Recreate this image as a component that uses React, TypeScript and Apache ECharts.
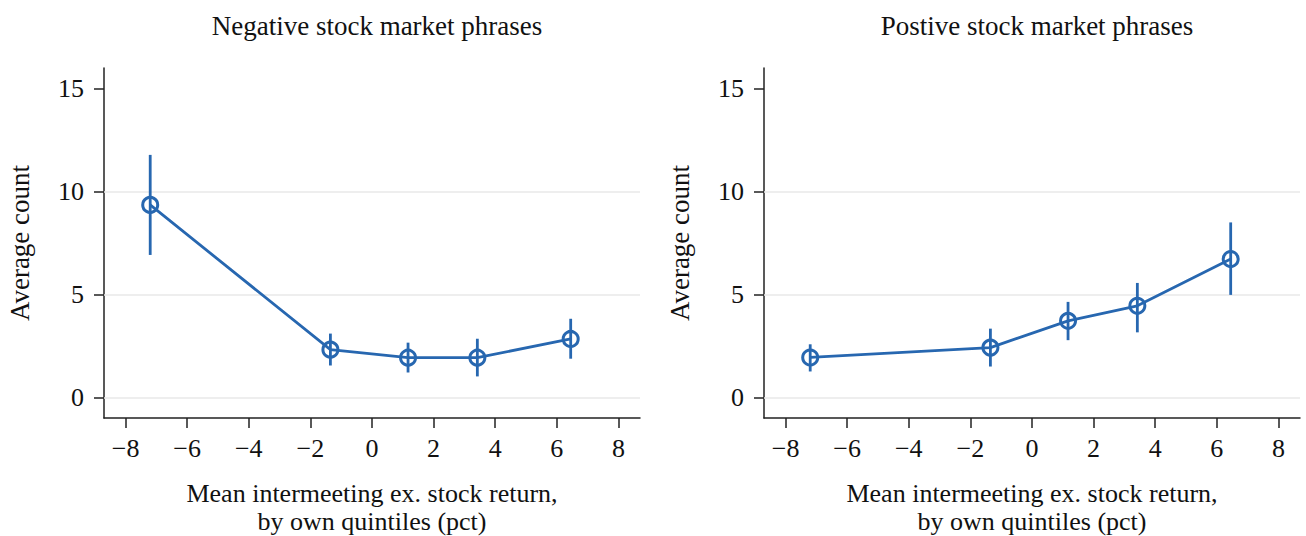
import React, { useEffect, useRef } from "react";
import * as echarts from "echarts";

const panelTitles = ["Negative stock market phrases", "Postive stock market phrases"];
const xValues = [-7.2, -1.35, 1.17, 3.42, 6.45];
const negMean = [9.35, 2.32, 1.93, 1.93, 2.84];
const negLow = [6.92, 1.55, 1.21, 1.02, 1.88];
const negHigh = [11.78, 3.1, 2.66, 2.85, 3.82];
const posMean = [1.94, 2.42, 3.72, 4.45, 6.72];
const posLow = [1.26, 1.5, 2.78, 3.16, 4.98];
const posHigh = [2.58, 3.34, 4.64, 5.56, 8.5];
const xTicks = [-8, -6, -4, -2, 0, 2, 4, 6, 8];
const yTicks = [0, 5, 10, 15];
const gridValues = [0, 5, 10];
const yTitle = "Average count";
const xTitleLines = ["Mean intermeeting ex. stock return,", "by own quintiles (pct)"];

const BLUE = "#2767b0";
const FONT = "'Liberation Serif', 'Times New Roman', 'DejaVu Serif', serif";
const FS = 26;
const TFS = 27;

export default function App() {
  const ref = useRef<HTMLDivElement>(null);
  useEffect(() => {
    if (!ref.current) return;
    const chart = echarts.init(ref.current, null, { renderer: "svg" });
    const lefts = [104, 764];
    const plotW = 536;
    const grids = lefts.map((l) => ({ left: l, top: 68, width: plotW, height: 350 }));
    const fmt = (v: number) => (v < 0 ? "\u2212" + Math.abs(v) : String(v));
    const xAxes = [0, 1].map((i) => ({
      type: "value",
      gridIndex: i,
      min: -8.7,
      max: 8.7,
      axisLine: { show: true, onZero: false, lineStyle: { color: "#222", width: 1.5 } },
      axisTick: { show: true, customValues: xTicks, length: 10, lineStyle: { color: "#222", width: 1.5 } },
      axisLabel: { customValues: xTicks, formatter: fmt, fontFamily: FONT, fontSize: FS, color: "#111", margin: 17 },
      splitLine: { show: false },
    }));
    const yAxes = [0, 1].map((i) => ({
      type: "value",
      gridIndex: i,
      min: -1,
      max: 16,
      axisLine: { show: true, onZero: false, lineStyle: { color: "#222", width: 1.5 } },
      axisTick: { show: true, customValues: yTicks, length: 10, lineStyle: { color: "#222", width: 1.5 } },
      axisLabel: { customValues: yTicks, fontFamily: FONT, fontSize: FS, color: "#111", margin: 20 },
      splitLine: { show: false },
    }));
    const datasets = [
      { mean: negMean, lo: negLow, hi: negHigh },
      { mean: posMean, lo: posLow, hi: posHigh },
    ];
    const series: any[] = [];
    datasets.forEach((d, i) => {
      series.push({
        type: "line",
        xAxisIndex: i,
        yAxisIndex: i,
        data: xValues.map((x, k) => [x, d.mean[k]]),
        symbol: "circle",
        symbolSize: 15,
        lineStyle: { color: BLUE, width: 2.8 },
        itemStyle: { color: "rgba(0,0,0,0)", borderColor: BLUE, borderWidth: 3 },
        z: 3,
        markLine: {
          silent: true,
          symbol: "none",
          label: { show: false },
          lineStyle: { color: "#e8e8e8", width: 1.5, type: "solid" },
          data: gridValues.map((v) => ({ yAxis: v })),
          z: 1,
        },
      });
      series.push({
        type: "custom",
        xAxisIndex: i,
        yAxisIndex: i,
        z: 4,
        data: xValues.map((x, k) => [x, d.lo[k], d.hi[k]]),
        encode: { x: 0, y: [1, 2] },
        renderItem: (params: any, api: any) => {
          const x = api.value(0);
          const p1 = api.coord([x, api.value(1)]);
          const p2 = api.coord([x, api.value(2)]);
          return {
            type: "line",
            shape: { x1: p1[0], y1: p1[1], x2: p2[0], y2: p2[1] },
            style: { stroke: BLUE, lineWidth: 2.8 },
          };
        },
      });
    });
    const graphic: any[] = [];
    lefts.forEach((l) => {
      const cx = l + plotW / 2;
      graphic.push({
        type: "text",
        x: l - 84,
        y: 243,
        rotation: Math.PI / 2,
        style: { text: yTitle, fontFamily: FONT, fontSize: TFS, fill: "#111", align: "center", verticalAlign: "middle" },
      });
      xTitleLines.forEach((t, j) => {
        graphic.push({
          type: "text",
          x: cx,
          y: 493 + j * 28,
          style: { text: t, fontFamily: FONT, fontSize: 26, fill: "#111", align: "center", verticalAlign: "middle" },
        });
      });
    });
    chart.setOption({
      animation: false,
      backgroundColor: "#fff",
      title: panelTitles.map((t, i) => ({
        text: t,
        left: lefts[i] + plotW / 2,
        top: 7,
        textAlign: "center",
        textStyle: { fontFamily: FONT, fontSize: TFS, fontWeight: "normal", color: "#111" },
      })),
      grid: grids,
      xAxis: xAxes,
      yAxis: yAxes,
      series,
      graphic,
    });
    return () => chart.dispose();
  }, []);
  return (
    <div
      ref={ref}
      style={{ position: "fixed", left: 0, top: 0, width: 1306, height: 536, background: "#fff" }}
    />
  );
}
